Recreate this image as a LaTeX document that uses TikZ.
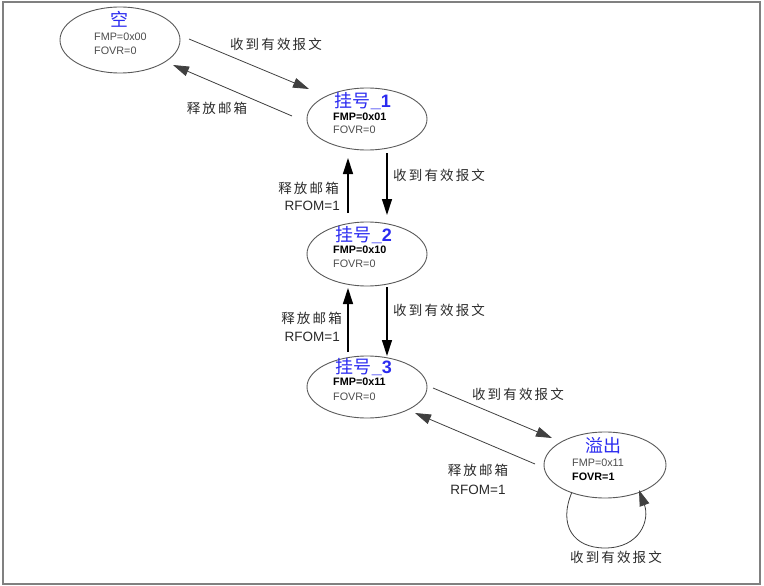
\documentclass[tikz,border=0pt]{standalone}
\usepackage{fontspec}
\setmainfont{Liberation Sans}
\newfontfamily\cjk[LetterSpace=16]{Noto Sans CJK SC}
\newfontfamily\cjkt{Noto Sans CJK SC}
\usetikzlibrary{shapes.geometric,arrows.meta,calc}
\definecolor{tgray}{HTML}{2A2A2A}
\definecolor{titleblue}{HTML}{2B2BF0}
\begin{document}
\begin{tikzpicture}[x=1pt,y=-1pt,
 st/.style={draw=black!65,line width=0.9pt,ellipse,minimum width=120pt,minimum height=64pt,inner sep=0pt},
 ttl/.style={text=titleblue,font=\fontsize{18}{18}\selectfont,inner sep=0pt},
 val/.style={anchor=west,inner sep=0pt,font=\fontsize{10.8}{10.8}\selectfont,text=black!70},
 valb/.style={anchor=west,inner sep=0pt,font=\bfseries\fontsize{10.8}{10.8}\selectfont,text=black},
 lab/.style={font=\cjk\fontsize{13.5}{13.5}\selectfont,text=tgray,inner sep=0pt},
 rf/.style={font=\fontsize{13.5}{13.5}\selectfont,text=tgray,inner sep=0pt},
 thinarr/.style={draw=black!75,line width=0.8pt,-{Triangle[length=16pt,width=10pt]}},
 thickarr/.style={draw=black,line width=1.3pt,-{Triangle[length=16pt,width=10pt]}}
]
\useasboundingbox (0,0) rectangle (764,586);
\draw[draw=black!50,line width=2pt] (3,2) rectangle (760,584);

% states
\node[st,minimum height=66pt] (e0) at (120,40) {};
\node[ttl] (t0) at (119,19) {\cjkt 空};
\node[val] (f0) at (94,37) {FMP=0x00};
\node[val] (o0) at (94,51) {FOVR=0};

\node[st,minimum height=62pt] (e1) at (367,119) {};
\node[ttl] (t1) at (363,101) {{\cjkt 挂号}\textbf{\_1}};
\node[valb] (f1) at (333,117) {FMP=0x01};
\node[val] (o1) at (333,130) {FOVR=0};

\node[st] (e2) at (367,254) {};
\node[ttl] (t2) at (364,235) {{\cjkt 挂号}\textbf{\_2}};
\node[valb] (f2) at (333,250) {FMP=0x10};
\node[val] (o2) at (333,264) {FOVR=0};

\node[st,minimum height=62pt] (e3) at (367,387) {};
\node[ttl] (t3) at (364,367) {{\cjkt 挂号}\textbf{\_3}};
\node[valb] (f3) at (333,382) {FMP=0x11};
\node[val] (o3) at (333,397) {FOVR=0};

\node[st,minimum width=122pt,minimum height=66pt] (e4) at (605,465) {};
\node[ttl] (t4) at (603,446) {\cjkt 溢出};
\node[val] (f4) at (572,463) {FMP=0x11};
\node[valb] (o4) at (572,477) {FOVR=1};

% transitions
\draw[thinarr] ($(e0)+(69,-1)$) -- ($(e1)+(-58,-30)$);
\node[lab] (l01) at (276,44) {收到有效报文};
\draw[thinarr] ($(e1)+(-75,-3)$) -- ($(e0)+(53,25)$);
\node[lab] (l10) at (217,108) {释放邮箱};

\draw[thickarr] ($(e2)+(-19,-41)$) -- ($(e1)+(-19,39)$);
\draw[thickarr] ($(e1)+(20,34)$) -- ($(e2)+(20,-39)$);
\node[lab,anchor=west] (l12) at (393,175) {收到有效报文};
\node[lab,anchor=east] (l21) at (339,188) {释放邮箱};
\node[rf,anchor=east] (r21) at (340,206) {RFOM=1};

\draw[thickarr] ($(e3)+(-19,-35)$) -- ($(e2)+(-19,34)$);
\draw[thickarr] ($(e2)+(20,33)$) -- ($(e3)+(20,-31)$);
\node[lab,anchor=west] (l23) at (393,310) {收到有效报文};
\node[lab,anchor=east] (l32) at (342,318) {释放邮箱};
\node[rf,anchor=east] (r32) at (340,337) {RFOM=1};

\draw[thinarr] ($(e3)+(66,1)$) -- ($(e4)+(-53,-27)$);
\node[lab] (l34) at (518,394) {收到有效报文};
\draw[thinarr] ($(e4)+(-70,-1)$) -- ($(e3)+(48,26)$);
\node[lab] (l43) at (478,470) {释放邮箱};
\node[rf] (r43) at (478,490) {RFOM=1};

\draw[thinarr] ($(e4)+(-33,27)$) .. controls ($(e4)+(-47,60)$) and ($(e4)+(-32,83)$) .. ($(e4)+(0,83)$) .. controls ($(e4)+(35,83)$) and ($(e4)+(45,55)$) .. ($(e4)+(34,25)$);
\node[lab] (l44) at (616,557) {收到有效报文};
\end{tikzpicture}
\end{document}
